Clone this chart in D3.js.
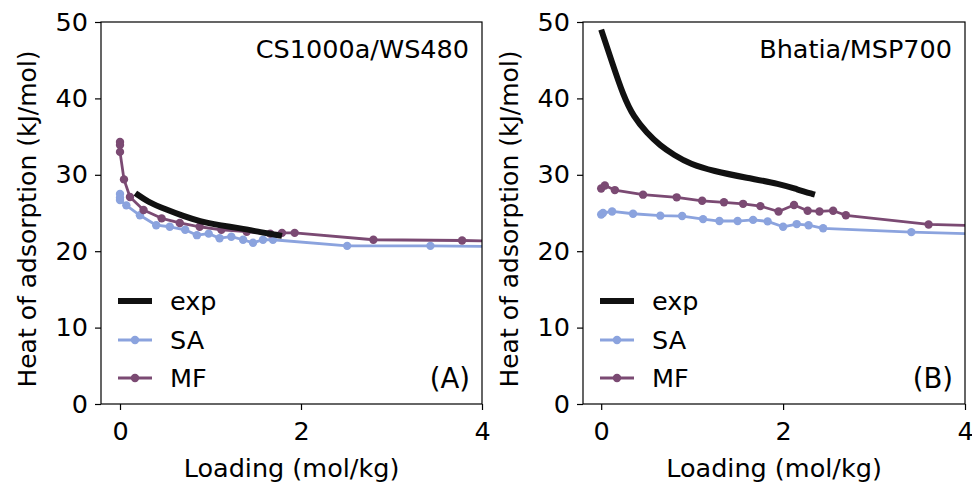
<!DOCTYPE html>
<html>
<head>
<meta charset="utf-8">
<script src="https://cdn.jsdelivr.net/npm/d3@7"></script>
<style>
  body { margin: 0; background: #fff; }
  svg { display: block; font-family: "DejaVu Sans", sans-serif; }
</style>
</head>
<body>
<svg id="chart" width="972" height="487"></svg>
<script>
// panel A: CS1000a/WS480
const expA = [[0.17, 27.6], [0.3, 26.5], [0.52, 25.4], [0.7, 24.6], [0.88, 23.9], [1.1, 23.4], [1.33, 23.0], [1.55, 22.5], [1.79, 22.0]];
const saA = [[0, 27.5], [0, 27.0], [0, 26.7], [0.07, 26.0], [0.22, 24.7], [0.4, 23.4], [0.55, 23.2], [0.72, 22.8], [0.85, 22.1], [0.98, 22.3], [1.1, 21.7], [1.23, 21.9], [1.36, 21.5], [1.47, 21.1], [1.58, 21.5], [1.69, 21.5], [2.51, 20.7], [3.43, 20.7], [4.3, 20.6]];
const mfA = [[0, 34.3], [0, 33.9], [0, 33.0], [0.044, 29.4], [0.11, 27.1], [0.26, 25.4], [0.46, 24.3], [0.66, 23.7], [0.88, 23.2], [1.12, 22.8], [1.4, 22.55], [1.66, 22.3], [1.79, 22.4], [1.93, 22.4], [2.8, 21.5], [3.78, 21.4], [4.3, 21.3]];

// panel B: Bhatia/MSP700
const expB = [[0, 49.0], [0.12, 44.7], [0.245, 40.3], [0.355, 37.6], [0.5, 35.5], [0.65, 33.8], [0.8, 32.6], [0.98, 31.4], [1.23, 30.5], [1.6, 29.6], [1.97, 28.8], [2.15, 28.1], [2.35, 27.4]];
const saB = [[0, 24.8], [0.02, 25.0], [0.12, 25.2], [0.35, 24.9], [0.65, 24.65], [0.89, 24.6], [1.12, 24.2], [1.3, 23.95], [1.5, 23.95], [1.67, 24.1], [1.83, 23.9], [2.0, 23.2], [2.15, 23.55], [2.28, 23.4], [2.44, 23.0], [3.41, 22.5], [4.3, 22.2]];
const mfB = [[0, 28.2], [0.04, 28.6], [0.15, 28.0], [0.46, 27.4], [0.83, 27.05], [1.11, 26.6], [1.35, 26.4], [1.56, 26.2], [1.75, 25.9], [1.95, 25.2], [2.12, 26.05], [2.27, 25.3], [2.4, 25.2], [2.55, 25.3], [2.69, 24.7], [3.6, 23.5], [4.3, 23.3]];

const xTicks = [0, 2, 4];
const yTicks = [0, 10, 20, 30, 40, 50];
const seriesNames = ["exp", "SA", "MF"];

const colors = { exp: "#111111", SA: "#8ba3de", MF: "#7b4a73" };

const panels = [
  { left: 101, right: 482, xmin: -0.21, title: "CS1000a/WS480", tag: "(A)", exp: expA, sa: saA, mf: mfA },
  { left: 583, right: 965, xmin: -0.2, title: "Bhatia/MSP700", tag: "(B)", exp: expB, sa: saB, mf: mfB }
];

const plotTop = 22, plotBottom = 404;
const svg = d3.select("#chart");
const fs = 25.5;

panels.forEach((p, i) => {
  const x = d3.scaleLinear().domain([p.xmin, 4]).range([p.left, p.right]);
  const y = d3.scaleLinear().domain([0, 50]).range([plotBottom, plotTop]);
  const g = svg.append("g");

  const clipId = "clip" + i;
  g.append("clipPath").attr("id", clipId)
    .append("rect").attr("x", p.left).attr("y", plotTop).attr("width", p.right - p.left).attr("height", plotBottom - plotTop);

  const plot = g.append("g").attr("clip-path", `url(#${clipId})`);
  const line = d3.line().x(d => x(d[0])).y(d => y(d[1]));

  // SA then MF, then exp on top
  [["SA", p.sa], ["MF", p.mf]].forEach(([name, data]) => {
    plot.append("path").datum(data)
      .attr("d", line)
      .attr("fill", "none")
      .attr("stroke", colors[name])
      .attr("stroke-width", 2.8)
      .attr("stroke-linejoin", "round");
    plot.selectAll(null).data(data).join("circle")
      .attr("cx", d => x(d[0]))
      .attr("cy", d => y(d[1]))
      .attr("r", 4.2)
      .attr("fill", colors[name]);
  });

  plot.append("path").datum(p.exp)
    .attr("d", line.curve(d3.curveBasis))
    .attr("fill", "none")
    .attr("stroke", colors.exp)
    .attr("stroke-width", 6);

  // axes
  const xAxis = g.append("g").attr("transform", `translate(0,${plotBottom})`)
    .call(d3.axisBottom(x).tickValues(xTicks).tickSize(6).tickPadding(12).tickFormat(d3.format("d")));
  const yAxis = g.append("g").attr("transform", `translate(${p.left},0)`)
    .call(d3.axisLeft(y).tickValues(yTicks).tickSize(6).tickPadding(7));
  [xAxis, yAxis].forEach(a => {
    a.select(".domain").remove();
    a.selectAll("line").attr("stroke", "#000").attr("stroke-width", 1.2);
    a.selectAll("text").attr("font-size", fs).attr("fill", "#000").attr("font-family", "DejaVu Sans");
  });

  g.append("rect")
    .attr("x", p.left).attr("y", plotTop)
    .attr("width", p.right - p.left).attr("height", plotBottom - plotTop)
    .attr("fill", "none").attr("stroke", "#000").attr("stroke-width", 1.2);

  // labels
  g.append("text")
    .attr("x", (p.left + p.right) / 2).attr("y", 477)
    .attr("text-anchor", "middle").attr("font-size", fs)
    .text("Loading (mol/kg)");
  g.append("text")
    .attr("transform", `translate(${p.left - 65},219) rotate(-90)`)
    .attr("text-anchor", "middle").attr("font-size", 25)
    .text("Heat of adsorption (kJ/mol)");
  g.append("text")
    .attr("x", p.right - 13).attr("y", 58)
    .attr("text-anchor", "end").attr("font-size", fs)
    .text(p.title);
  g.append("text")
    .attr("x", p.right - 12).attr("y", 388)
    .attr("text-anchor", "end").attr("font-size", 27.5)
    .text(p.tag);

  // legend
  const lx = p.left + 17;
  const rows = [{ name: "exp", y: 301 }, { name: "SA", y: 340 }, { name: "MF", y: 378 }];
  rows.forEach(r => {
    g.append("line")
      .attr("x1", lx).attr("x2", lx + 34).attr("y1", r.y).attr("y2", r.y)
      .attr("stroke", colors[r.name])
      .attr("stroke-width", r.name === "exp" ? 6 : 2.8);
    if (r.name !== "exp") {
      g.append("circle").attr("cx", lx + 17).attr("cy", r.y).attr("r", 4.2).attr("fill", colors[r.name]);
    }
    g.append("text")
      .attr("x", lx + 52).attr("y", r.y).attr("dy", "0.35em")
      .attr("font-size", fs)
      .text(r.name);
  });
});
</script>
</body>
</html>
